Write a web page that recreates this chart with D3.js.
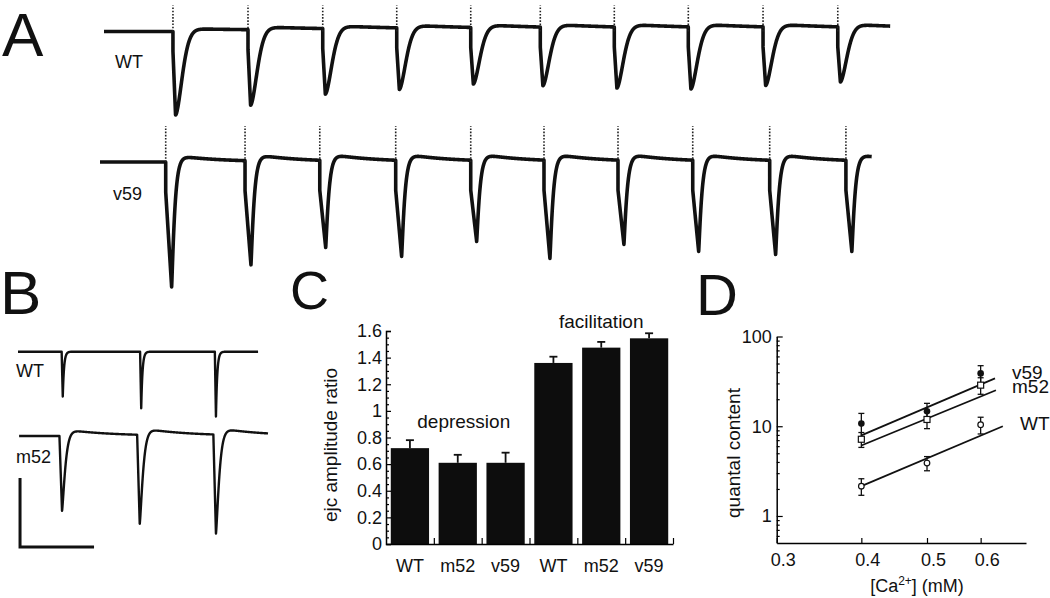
<!DOCTYPE html>
<html>
<head>
<meta charset="utf-8">
<script src="https://cdn.jsdelivr.net/npm/d3@7"></script>
<style>
body { margin: 0; background: #fff; }
text { font-family: "Liberation Sans", Arial, sans-serif; fill: #111; }
</style>
</head>
<body>
<script>
const width = 1050;
const height = 598;

// A: 10 Hz trains, stimulus times (ms) and ejc peak amplitudes (arbitrary nA)
const trainWTStim = [98.6, 200, 301, 401, 501, 595, 695, 795, 896, 997];
const trainWTAmp = [8.35, 7.55, 6.55, 6.15, 5.65, 5.85, 6.1, 6.2, 5.85, 5.5];
const trainV59Stim = [88.8, 196, 297, 399.6, 501, 600, 700, 801, 905, 1008];
const trainV59Amp = [12.5, 10.4, 8.7, 9.6, 8.1, 9.8, 8.4, 9.1, 9.4, 9.1];

// B: paired pulses
const pairWTStim = [11.8, 33, 53.2];
const pairWTAmp = [1.30, 1.64, 1.88];
const pairM52Stim = [11.2, 32.2, 52.8];
const pairM52Amp = [2.17, 2.58, 2.87];
const scaleBarMs = 20;
const scaleBarNa = 2;

// C: amplitude ratios
const ratioCats = ["WT", "m52", "v59", "WT", "m52", "v59"];
const ratioVals = [0.72, 0.61, 0.61, 1.36, 1.475, 1.545];
const ratioErr = [0.06, 0.06, 0.076, 0.047, 0.043, 0.038];
const ratioTicks = [0, 0.2, 0.4, 0.6, 0.8, 1, 1.2, 1.4, 1.6];

// D: quantal content vs [Ca2+]
const caConc = [0.4, 0.5, 0.6];
const qcV59 = [10.7, 14.7, 38.8];
const qcV59Err = [3.2, 3.3, 8.5];
const qcM52 = [7.16, 11.9, 28.7];
const qcM52Err = [1.35, 2.5, 6];
const qcWT = [2.15, 3.89, 10.4];
const qcWTErr = [0.45, 0.7, 2.2];
const fitV59 = [[0.4, 7.9], [0.63, 34.1]];
const fitM52 = [[0.4, 6.1], [0.632, 25.2]];
const fitWT = [[0.4, 2.15], [0.647, 10.0]];
const caTicks = [0.3, 0.4, 0.5, 0.6];
const qcTicks = [1, 10, 100];

let svg = d3.select("body").append("svg")
  .attr("width", width)
  .attr("height", height);

// builds a current trace out of stimulus times + peak amplitudes
function buildTrace(stims, amps, p) {
  let ts = d3.range(p.t0, p.t1, p.step);
  stims.forEach(s => { ts.push(s, s - p.step / 10, s + p.tR); });
  ts = ts.filter(t => t >= p.t0 && t <= p.t1).sort((a, b) => a - b);
  let shape = p.shape || 1;
  return ts.map(t => {
    let v = 0;
    stims.forEach((s, i) => {
      let dt = t - s;
      if (dt < 0) return;
      if (dt <= p.tR) {
        v -= p.notch + (amps[i] - p.notch) * dt / p.tR;
      } else {
        let x = dt - p.tR;
        let f = Math.exp(-Math.pow(x / p.tau, shape));
        v -= amps[i] * f;
        v += p.over * (1 - f) * Math.exp(-x / p.tauS);
      }
    });
    return [t, v];
  });
}

function drawTrace(xs, ys, stims, amps, p, sw) {
  let pts = buildTrace(stims, amps, p);
  svg.append("path")
    .datum(pts)
    .attr("d", d3.line().x(d => xs(d[0])).y(d => ys(d[1])))
    .attr("fill", "none")
    .attr("stroke", "#111")
    .attr("stroke-width", sw)
    .attr("stroke-linejoin", "round");
  if (p.art > 0) {
    svg.selectAll(null)
      .data(stims)
      .enter().append("line")
      .attr("x1", d => xs(d)).attr("x2", d => xs(d))
      .attr("y1", ys(0)).attr("y2", ys(p.art))
      .attr("stroke", "#222")
      .attr("stroke-width", 1.6)
      .attr("stroke-dasharray", "1.6,1.6");
  }
}

// ---------- A ----------
let xA = d3.scaleLinear().domain([0, 1070]).range([100, 891.8]);
let yAWT = d3.scaleLinear().domain([-10, 0]).range([131.5, 31.5]);
let yAV59 = d3.scaleLinear().domain([-10, 0]).range([262, 162]);

drawTrace(xA, yAWT, trainWTStim, trainWTAmp,
  {t0: 5.4, t1: 1068, step: 0.2, tR: 3.5, tau: 12.4, shape: 1.7, notch: 2.0, over: 0.3, tauS: 200, art: 2.6}, 3.6);
drawTrace(xA, yAV59, trainV59Stim, trainV59Amp,
  {t0: 0, t1: 1043, step: 0.2, tR: 8, tau: 4.8, shape: 1.15, notch: 3.0, over: 0.7, tauS: 60, art: 3.6}, 3.6);

svg.append("text").attr("x", 2).attr("y", 56).attr("font-size", 62).text("A");
svg.append("text").attr("x", 115).attr("y", 68).attr("font-size", 18).text("WT");
svg.append("text").attr("x", 113).attr("y", 200).attr("font-size", 18).text("v59");

// ---------- B ----------
let xB = d3.scaleLinear().domain([0, 70]).range([18, 277]);
let yBWT = d3.scaleLinear().domain([-2, 0]).range([420.7, 351.7]);
let yBM52 = d3.scaleLinear().domain([-2, 0]).range([505, 436]);

drawTrace(xB, yBWT, pairWTStim, pairWTAmp,
  {t0: 0, t1: 64.9, step: 0.02, tR: 0.3, tau: 0.35, notch: 0, over: 0, tauS: 1, art: 0}, 2.4);
drawTrace(xB, yBM52, pairM52Stim, pairM52Amp,
  {t0: 0.3, t1: 67.6, step: 0.02, tR: 0.7, tau: 1.1, shape: 1.3, notch: 0, over: 0.2, tauS: 12, art: 0}, 2.4);

let ySB = d3.scaleLinear().domain([0, 2]).range([547, 478]);
svg.append("path")
  .attr("d", "M" + xB(0.55) + "," + ySB(scaleBarNa) + "V" + ySB(0) + "H" + xB(0.55 + scaleBarMs))
  .attr("fill", "none")
  .attr("stroke", "#111")
  .attr("stroke-width", 3);

svg.append("text").attr("x", 0).attr("y", 314).attr("font-size", 62).text("B");
svg.append("text").attr("x", 16).attr("y", 377).attr("font-size", 18).text("WT");
svg.append("text").attr("x", 16).attr("y", 463).attr("font-size", 18).text("m52");

// ---------- C ----------
let yC = d3.scaleLinear().domain([0, 1.6]).range([544, 331]);
let xC = d3.scaleBand().domain(d3.range(6)).range([386, 673]).paddingInner(0.2).paddingOuter(0.1);
let xCedge = d3.scaleLinear().domain([0, 6]).range([386, 673]);

svg.selectAll(".bar")
  .data(ratioVals)
  .enter().append("rect")
  .attr("class", "bar")
  .attr("x", (d, i) => xC(i))
  .attr("y", d => yC(d))
  .attr("width", xC.bandwidth())
  .attr("height", d => yC(0) - yC(d))
  .attr("fill", "#0d0d0d");

let cBar = svg.append("g");
ratioVals.forEach((v, i) => {
  let cx = xC(i) + xC.bandwidth() / 2;
  cBar.append("line").attr("x1", cx).attr("x2", cx)
    .attr("y1", yC(v)).attr("y2", yC(v + ratioErr[i]))
    .attr("stroke", "#111").attr("stroke-width", 1.8);
  cBar.append("line").attr("x1", cx - 4).attr("x2", cx + 4)
    .attr("y1", yC(v + ratioErr[i])).attr("y2", yC(v + ratioErr[i]))
    .attr("stroke", "#111").attr("stroke-width", 1.8);
});

let minorC = d3.range(0, 1.6001, 0.05).filter(d => Math.abs(d * 5 - Math.round(d * 5)) > 1e-6);
svg.append("g")
  .attr("transform", "translate(386,0)")
  .call(d3.axisLeft(yC).tickValues(minorC).tickSize(-3).tickFormat(""))
  .call(g => g.select(".domain").remove());
svg.append("g")
  .attr("transform", "translate(386,0)")
  .call(d3.axisLeft(yC).tickValues(ratioTicks).tickSize(-5).tickPadding(4)
    .tickFormat(d => String(+d.toFixed(1))))
  .call(g => g.selectAll("text").attr("font-size", 18).attr("font-family", null));
svg.append("g")
  .attr("transform", "translate(0,544)")
  .call(d3.axisBottom(xCedge).tickValues(d3.range(1, 7)).tickSize(-6).tickSizeOuter(0).tickFormat(""));

svg.selectAll(".cat")
  .data(ratioCats)
  .enter().append("text")
  .attr("class", "cat")
  .attr("x", (d, i) => xC(i) + xC.bandwidth() / 2)
  .attr("y", 572)
  .attr("text-anchor", "middle")
  .attr("font-size", 18)
  .text(d => d);

svg.append("text").attr("x", xC(1) + xC.bandwidth() / 2 + 6).attr("y", yC(0.87))
  .attr("text-anchor", "middle").attr("font-size", 19).text("depression");
svg.append("text").attr("x", xC(4) + xC.bandwidth() / 2).attr("y", yC(1.62))
  .attr("text-anchor", "middle").attr("font-size", 19).text("facilitation");
svg.append("text")
  .attr("transform", "translate(337,445) rotate(-90)")
  .attr("text-anchor", "middle").attr("font-size", 19).text("ejc amplitude ratio");
svg.append("text").attr("x", 290).attr("y", 309).attr("font-size", 54).text("C");

// ---------- D ----------
let xD = d3.scaleLog().domain([0.3, 0.7]).range([776.7, 1026]);
let yD = d3.scaleLog().domain([0.5, 100]).range([543, 336.5]);

let minorD = [0.6, 0.7, 0.8, 0.9, 2, 3, 4, 5, 6, 7, 8, 9, 20, 30, 40, 50, 60, 70, 80, 90];
svg.append("g")
  .attr("transform", "translate(776.7,0)")
  .call(d3.axisLeft(yD).tickValues(minorD).tickSize(-3).tickFormat(""))
  .call(g => g.select(".domain").remove());
svg.append("g")
  .attr("transform", "translate(776.7,0)")
  .call(d3.axisLeft(yD).tickValues(qcTicks).tickSize(-6).tickSizeOuter(0).tickPadding(5)
    .tickFormat(d3.format("d")))
  .call(g => g.selectAll("text").attr("font-size", 18).attr("font-family", null));
svg.append("g")
  .attr("transform", "translate(0,543)")
  .call(d3.axisBottom(xD).tickValues(caTicks).tickSize(-5).tickSizeOuter(0).tickPadding(10)
    .tickFormat(d3.format(".1f")))
  .call(g => g.selectAll("text").attr("font-size", 18).attr("font-family", null).attr("dx", 6));

svg.selectAll(".domain").attr("stroke-width", 1.5);
svg.selectAll(".tick line").attr("stroke-width", 1.2);

let series = [
  {q: qcV59, e: qcV59Err, fit: fitV59, mark: "dot"},
  {q: qcM52, e: qcM52Err, fit: fitM52, mark: "square"},
  {q: qcWT, e: qcWTErr, fit: fitWT, mark: "circle"}
];

let dG = svg.append("g");
series.forEach(s => {
  s.q.forEach((v, i) => {
    let cx = xD(caConc[i]);
    let lo = yD(v - s.e[i]), hi = yD(v + s.e[i]);
    dG.append("line").attr("x1", cx).attr("x2", cx).attr("y1", lo).attr("y2", hi)
      .attr("stroke", "#111").attr("stroke-width", 1.3);
    [lo, hi].forEach(yy => dG.append("line").attr("x1", cx - 3).attr("x2", cx + 3)
      .attr("y1", yy).attr("y2", yy).attr("stroke", "#111").attr("stroke-width", 1.3));
  });
});
series.forEach(s => {
  dG.append("path")
    .datum(s.fit)
    .attr("d", d3.line().x(d => xD(d[0])).y(d => yD(d[1])))
    .attr("stroke", "#111").attr("stroke-width", 1.8).attr("fill", "none");
});
series.forEach(s => {
  s.q.forEach((v, i) => {
    let cx = xD(caConc[i]), cy = yD(v);
    if (s.mark === "dot") {
      dG.append("circle").attr("cx", cx).attr("cy", cy).attr("r", 3.3).attr("fill", "#111");
    } else if (s.mark === "square") {
      dG.append("rect").attr("x", cx - 3).attr("y", cy - 3).attr("width", 6).attr("height", 6)
        .attr("fill", "#fff").attr("stroke", "#111").attr("stroke-width", 1.2);
    } else {
      dG.append("circle").attr("cx", cx).attr("cy", cy).attr("r", 2.8)
        .attr("fill", "#fff").attr("stroke", "#111").attr("stroke-width", 1.2);
    }
  });
});

svg.append("text").attr("x", 1012).attr("y", 379).attr("font-size", 19).text("v59");
svg.append("text").attr("x", 1012).attr("y", 393).attr("font-size", 19).text("m52");
svg.append("text").attr("x", 1020).attr("y", 430).attr("font-size", 19).text("WT");

svg.append("text")
  .attr("transform", "translate(740,453) rotate(-90)")
  .attr("text-anchor", "middle").attr("font-size", 19).text("quantal content");

let xl = svg.append("text").attr("x", 917).attr("y", 592)
  .attr("text-anchor", "middle").attr("font-size", 18);
xl.append("tspan").text("[Ca");
xl.append("tspan").attr("font-size", 12).attr("dy", -7).text("2+");
xl.append("tspan").attr("dy", 7).text("] (mM)");

svg.append("text").attr("x", 696).attr("y", 315).attr("font-size", 58).text("D");
</script>
</body>
</html>
